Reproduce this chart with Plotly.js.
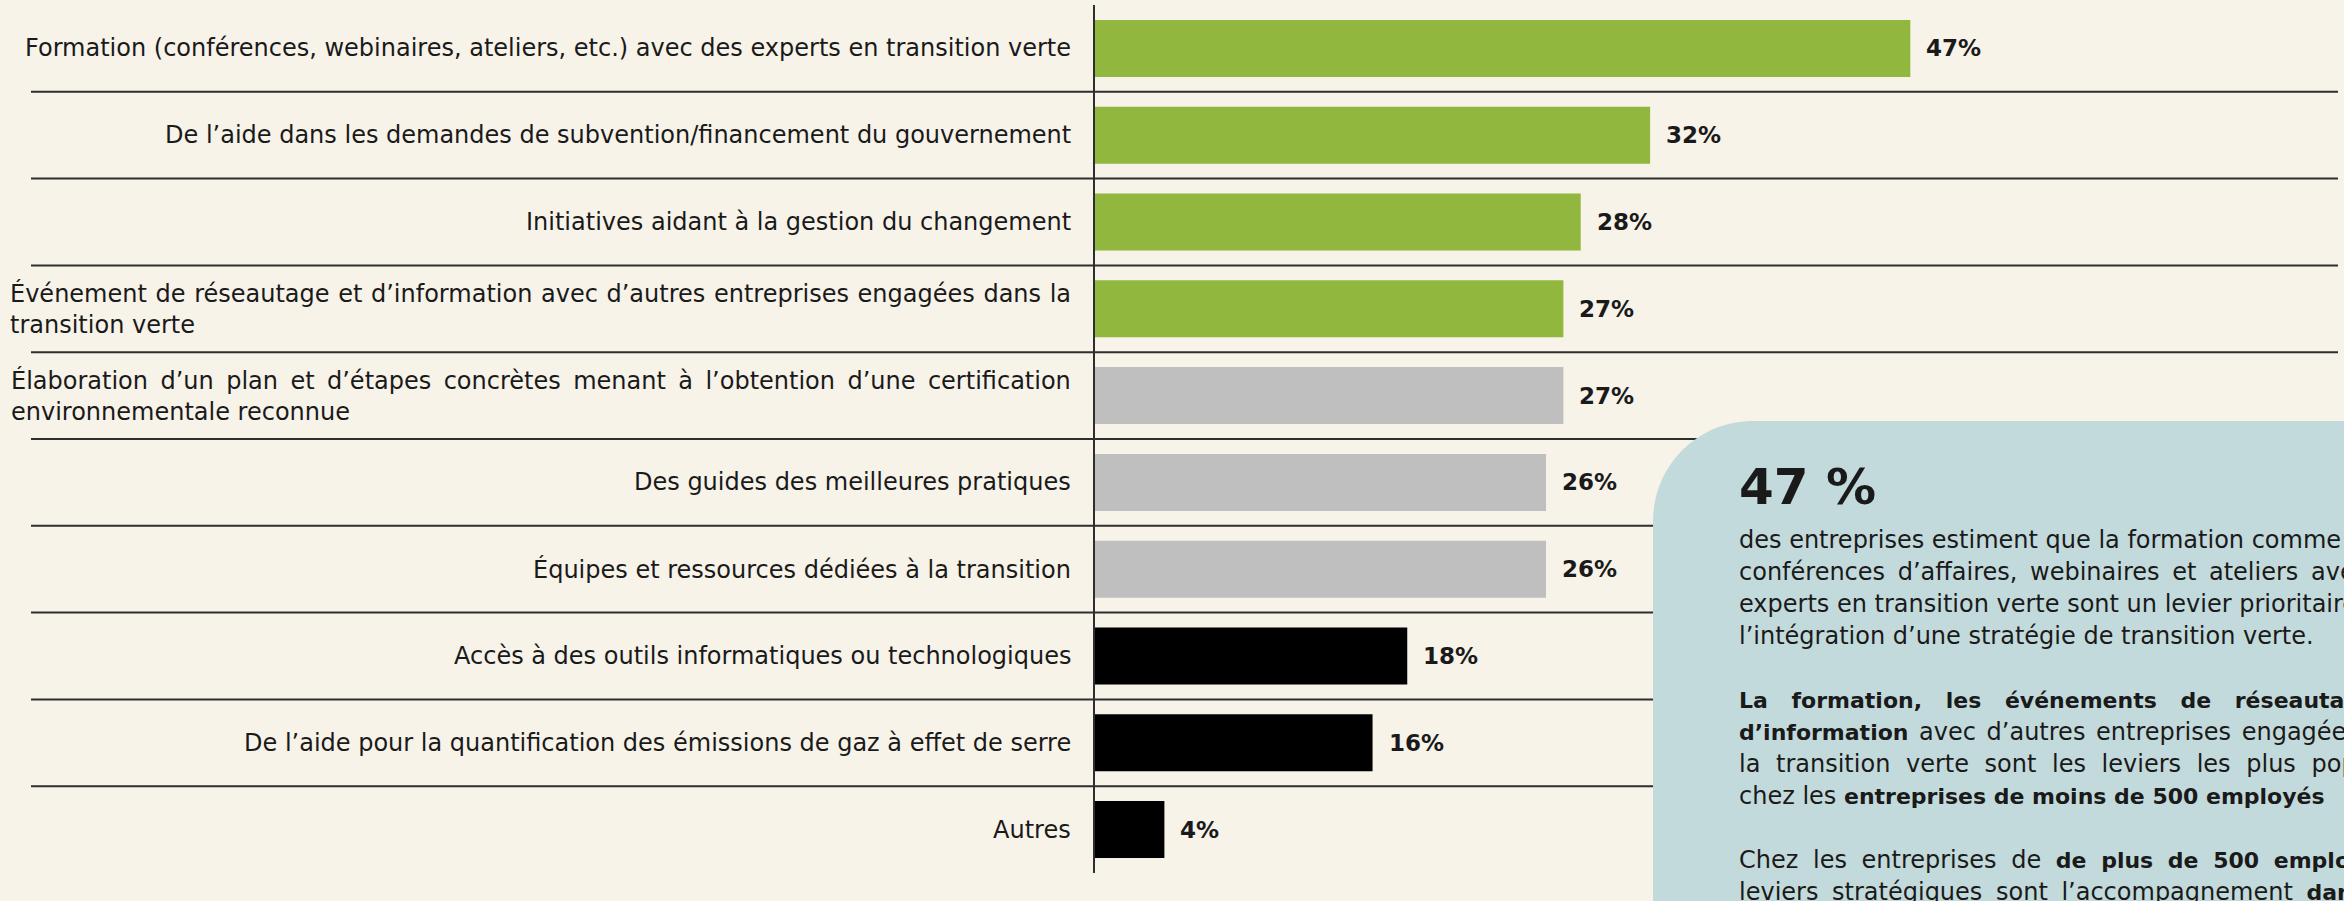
<!DOCTYPE html>
<html>
<head>
<meta charset="utf-8">
<script src="https://cdn.plot.ly/plotly-3.0.1.min.js"></script>
<style>
  html, body { margin: 0; padding: 0; background: #f7f3e9; }
  #chart { width: 2344px; height: 901px; }
</style>
</head>
<body>
<div id="chart"></div>
<script>
// ---------- data ----------
const categories = [
  "Formation (conférences, webinaires, ateliers, etc.) avec des experts en transition verte",
  "De l’aide dans les demandes de subvention/financement du gouvernement",
  "Initiatives aidant à la gestion du changement",
  "Événement de réseautage et d’information avec d’autres entreprises engagées dans la<br>transition verte",
  "Élaboration d’un plan et d’étapes concrètes menant à l’obtention d’une certification<br>environnementale reconnue",
  "Des guides des meilleures pratiques",
  "Équipes et ressources dédiées à la transition",
  "Accès à des outils informatiques ou technologiques",
  "De l’aide pour la quantification des émissions de gaz à effet de serre",
  "Autres"
];
const values = [47, 32, 28, 27, 27, 26, 26, 18, 16, 4];
const tiers = ["top", "top", "top", "top", "mid", "mid", "mid", "low", "low", "low"];

const calloutTitle = "47 %";
const calloutLines = [
  "des entreprises estiment que la formation comme les",
  "conférences d’affaires, webinaires et ateliers avec des",
  "experts en transition verte sont un levier prioritaire pour",
  "l’intégration d’une stratégie de transition verte.",
  "",
  "<b>La formation, les événements de réseautage et</b>",
  "<b>d’information</b> avec d’autres entreprises engagées dans",
  "la transition verte sont les leviers les plus populaires",
  "chez les <b>entreprises de moins de 500 employés</b>",
  "",
  "Chez les entreprises de <b>de plus de 500 employés</b>, les",
  "leviers stratégiques sont l’accompagnement <b>dans les</b>"
];

// ---------- styles ----------
const tierColors = { top: "#91b73e", mid: "#bfbfbf", low: "#000000" };
const BG = "#f7f3e9";
const BOX = "#c3dadc";
const INK = "#1a1a1a";
const FONT = "DejaVu Sans, sans-serif";
// extra word spacing (px) emulating the justified text of the original
const calloutWordSpacing = [0, 5, 0, 0, 0, 16, 3, 8, 0, 0, 7, 6];
const labelWordSpacing = { 3: 1, 4: 4.8 };   // first line of the wrapped labels
const BOLD_SIZE = 22;

const W = 2344, H = 901;
const M = { l: 1095, r: 0, t: 5, b: 28 };
const pw = W - M.l - M.r, ph = H - M.t - M.b;
const xp = px => (px - M.l) / pw;          // pixel -> paper x
const yp = py => (H - M.b - py) / ph;      // pixel -> paper y

const trace = {
  type: "bar",
  orientation: "h",
  y: categories,
  x: values,
  marker: { color: tiers.map(t => tierColors[t]) },
  hoverinfo: "skip"
};

const shapes = [];
for (let i = 0; i < categories.length - 1; i++) {
  shapes.push({
    type: "line", layer: "below",
    xref: "paper", yref: "y",
    x0: xp(31), x1: xp(2338), y0: i + 0.5, y1: i + 0.5,
    line: { color: "#2e2e2e", width: 2 }
  });
}
// callout box with rounded top-left corner
(function () {
  const L = 1653, T = 421, R = 2420, B = 960, r = 100, k = 0.5523 * r;
  const p = `M ${xp(L)},${yp(B)} L ${xp(L)},${yp(T + r)} ` +
            `C ${xp(L)},${yp(T + r - k)} ${xp(L + r - k)},${yp(T)} ${xp(L + r)},${yp(T)} ` +
            `L ${xp(R)},${yp(T)} L ${xp(R)},${yp(B)} Z`;
  shapes.push({ type: "path", layer: "above", xref: "paper", yref: "paper",
                path: p, fillcolor: BOX, line: { width: 0 } });
})();

function labelText(c, i) {
  const ws = labelWordSpacing[i];
  if (!ws) return c;
  const parts = c.split("<br>");
  parts[0] = `<span style="word-spacing:${ws}px">${parts[0]}</span>`;
  return parts.join("<br>");
}
function calloutText(ln, k) {
  const t = ln.replace(/<b>/g, `<span style="font-size:${BOLD_SIZE}px"><b>`)
              .replace(/<\/b>/g, "</b></span>");
  const ws = calloutWordSpacing[k];
  return ws ? `<span style="word-spacing:${ws}px">${t}</span>` : t;
}

const annotations = [];
categories.forEach((c, i) => {
  annotations.push({
    xref: "paper", yref: "y", x: xp(1073), y: c,
    xanchor: "right", yanchor: "middle", align: "left",
    text: labelText(c, i), showarrow: false,
    font: { family: FONT, size: 24, color: INK }
  });
  annotations.push({
    xref: "x", yref: "y", x: values[i], y: c,
    xanchor: "left", yanchor: "middle", xshift: 14,
    text: "<b>" + values[i] + "%</b>", showarrow: false,
    font: { family: FONT, size: 23, color: INK }
  });
});
annotations.push({
  xref: "paper", yref: "paper", x: xp(1737), y: yp(487),
  xanchor: "left", yanchor: "middle",
  text: "<b>" + calloutTitle + "</b>", showarrow: false,
  font: { family: FONT, size: 50, color: INK }
});
calloutLines.forEach((ln, k) => {
  if (!ln) return;
  annotations.push({
    xref: "paper", yref: "paper", x: xp(1737), y: yp(540 + 32 * k),
    xanchor: "left", yanchor: "middle", align: "left",
    text: calloutText(ln, k), showarrow: false,
    font: { family: FONT, size: 24, color: INK }
  });
});

const layout = {
  width: W, height: H,
  margin: M,
  paper_bgcolor: BG, plot_bgcolor: BG,
  showlegend: false,
  bargap: 0.343,
  xaxis: { range: [0, 72], visible: false, fixedrange: true },
  yaxis: {
    type: "category", range: [categories.length - 0.5, -0.5],
    showticklabels: false, showgrid: false, zeroline: false,
    showline: true, linecolor: "#2e2e2e", linewidth: 2, ticks: "", fixedrange: true
  },
  shapes: shapes,
  annotations: annotations
};

Plotly.newPlot("chart", [trace], layout, { displayModeBar: false, staticPlot: true });
</script>
</body>
</html>
